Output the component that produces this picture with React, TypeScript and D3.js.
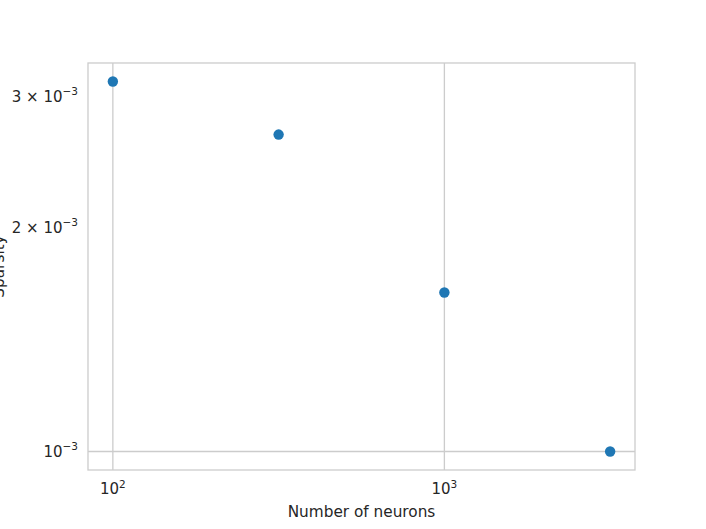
import React from "react";
import * as d3 from "d3";

const neurons = [100, 316.2, 1000, 3162];
const sparsity = [3.143e-3, 2.667e-3, 1.636e-3, 1.0e-3];
const xTicks = [{ v: 100, base: "10", exp: "2" }, { v: 1000, base: "10", exp: "3" }];
const yTicks = [
  { v: 1e-3, base: "10", exp: "−3", major: true },
  { v: 2e-3, base: "2 × 10", exp: "−3", major: false },
  { v: 3e-3, base: "3 × 10", exp: "−3", major: false },
];

const W = 706, H = 529;
const L = 88, R = 635, T = 63, B = 470;
const FONT = "DejaVu Sans, sans-serif";
const TXT = "#262626";
const GRID = "#cccccc";

export default function App() {
  const xLog = [Math.log10(100), Math.log10(3162)];
  const xPad = (xLog[1] - xLog[0]) * 0.05;
  const x = d3.scaleLog().domain([10 ** (xLog[0] - xPad), 10 ** (xLog[1] + xPad)]).range([L, R]);
  const yLog = [Math.log10(d3.min(sparsity)!), Math.log10(d3.max(sparsity)!)];
  const yPad = (yLog[1] - yLog[0]) * 0.05;
  const y = d3.scaleLog().domain([10 ** (yLog[0] - yPad), 10 ** (yLog[1] + yPad)]).range([B, T]);

  return (
    <svg width={W} height={H} style={{ position: "absolute", left: 0, top: 0, background: "#fff" }}
      fontFamily={FONT}>
      <rect x={L} y={T} width={R - L} height={B - T} fill="#fff" />
      {xTicks.map((t) => (
        <line key={"gx" + t.v} x1={x(t.v)} x2={x(t.v)} y1={T} y2={B} stroke={GRID} strokeWidth={1.3} />
      ))}
      {yTicks.filter((t) => t.major).map((t) => (
        <line key={"gy" + t.v} x1={L} x2={R} y1={y(t.v)} y2={y(t.v)} stroke={GRID} strokeWidth={1.3} />
      ))}
      <rect x={L} y={T} width={R - L} height={B - T} fill="none" stroke={GRID} strokeWidth={1.3} />
      {neurons.map((n, i) => (
        <circle key={i} cx={x(n)} cy={y(sparsity[i])} r={5.2} fill="#1f77b4" />
      ))}
      {xTicks.map((t) => (
        <text key={"tx" + t.v} x={x(t.v)} y={494} textAnchor="middle" fontSize={15} fill={TXT}>
          {t.base}
          <tspan fontSize={10.5} dy={-6.5}>{t.exp}</tspan>
        </text>
      ))}
      {yTicks.map((t) => (
        <text key={"ty" + t.v} x={78} y={y(t.v) + 5} textAnchor="end" fontSize={15} fill={TXT}>
          {t.base}
          <tspan fontSize={10.5} dy={-6.5}>{t.exp}</tspan>
        </text>
      ))}
      <text x={(L + R) / 2} y={517} textAnchor="middle" fontSize={15.3} fill={TXT}>Number of neurons</text>
      <text transform={`translate(4,${(T + B) / 2}) rotate(-90)`} textAnchor="middle" fontSize={15.3} fill={TXT}>Sparsity</text>
    </svg>
  );
}
